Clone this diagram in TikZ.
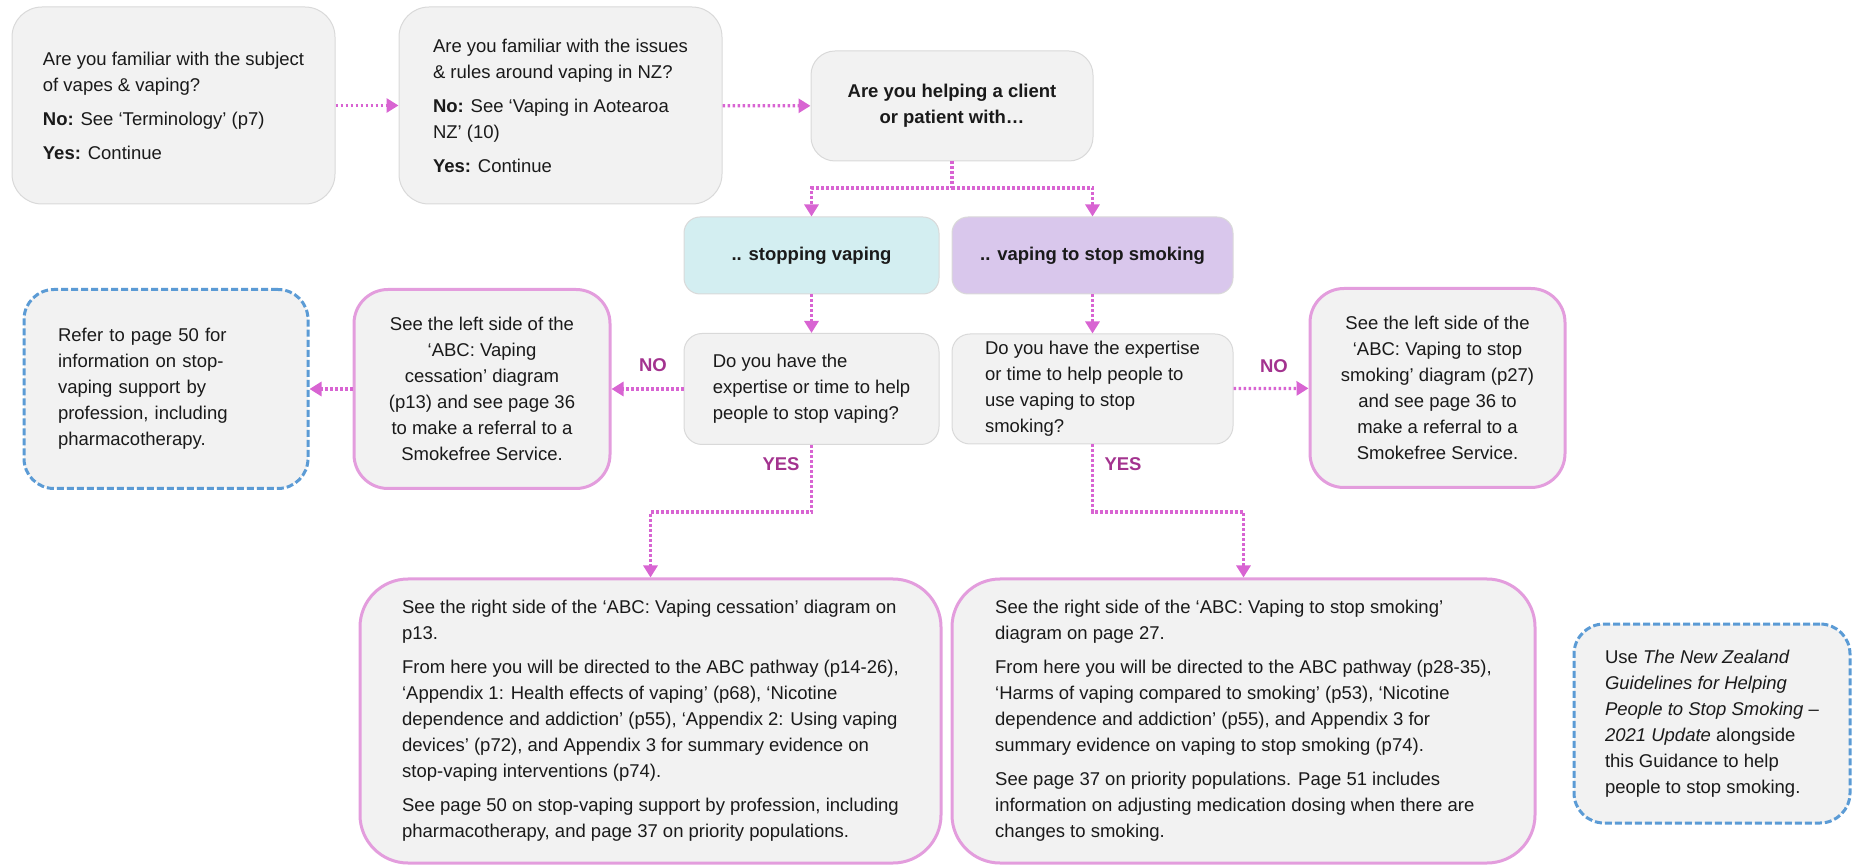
\documentclass[tikz,border=0pt]{standalone}
\usepackage{fontspec}
\setmainfont{Liberation Sans}
\usepackage{xcolor}
\usetikzlibrary{arrows.meta, positioning, calc}

\definecolor{boxgray}{HTML}{F2F2F2}
\definecolor{edgegray}{HTML}{D9D9D9}
\definecolor{flowpink}{HTML}{D864D2}
\definecolor{edgepink}{HTML}{E39DDD}
\definecolor{ansmag}{HTML}{A3338F}
\definecolor{edgeblue}{HTML}{5B9BD5}
\definecolor{fillteal}{HTML}{D3EEF1}
\definecolor{fillpurple}{HTML}{D9C7EC}
\definecolor{inktext}{HTML}{1A1A1A}
\newcommand{\boxfont}{\fontsize{9.25}{13}\selectfont}
\newcommand{\paragap}{4pt}

\begin{document}
\begin{tikzpicture}[x=0.5pt, y=-0.5pt,
  every node/.style={font=\boxfont, text=inktext, inner sep=0pt},
  card/.style={draw=edgegray, line width=0.5pt, fill=boxgray, rounded corners=#1, align=left},
  card/.default=15pt,
  choice/.style={draw=edgegray, line width=0.5pt, fill=#1, rounded corners=8pt,
    font=\boxfont\bfseries, minimum width=127.5pt, minimum height=38.5pt},
  pinkbox/.style={draw=edgepink, line width=1.5pt, fill=boxgray, rounded corners=#1},
  pinkbox/.default=17pt,
  bluebox/.style={draw=edgeblue, line width=1.5pt, dash pattern=on 3.5pt off 1.5pt,
    fill=boxgray, rounded corners=15pt, align=left, minimum width=#1, minimum height=99.5pt},
  flow/.style={draw=flowpink, line width=1.6pt, dash pattern=on 1.3pt off 1.2pt,
    -{Triangle[length=6pt, width=7pt, fill=flowpink]}},
  ans/.style={font=\boxfont\bfseries, text=ansmag}
]
\useasboundingbox (0,0) rectangle (1852,865);

% top row
\node[card, minimum width=161.5pt, minimum height=98.5pt] (subj) at (173.5,105.5)
  {Are you familiar with the subject\\ of vapes \& vaping?\\[\paragap]
   \textbf{No:} See ‘Terminology’ (p7)\\[\paragap] \textbf{Yes:} Continue};
\node[card, minimum width=161.5pt, minimum height=98.5pt] (rules) at (560.5,105.5)
  {Are you familiar with the issues\\ \& rules around vaping in NZ?\\[\paragap]
   \textbf{No:} See ‘Vaping in Aotearoa\\ NZ’ (10)\\[\paragap] \textbf{Yes:} Continue};
\node[card=12pt, align=center, font=\boxfont\bfseries, minimum width=141pt, minimum height=55pt]
  (client) at (952,106) {Are you helping a client\\ or patient with…};

% the two routes
\node[choice=fillteal] (stopvape) at (811.5,255.5) {.. stopping vaping};
\node[choice=fillpurple, minimum width=140.5pt] (vapesmoke) at (1092.5,255.5) {.. vaping to stop smoking};

\node[card=9pt, minimum width=127.5pt, minimum height=55.5pt] (qvape) at (811.5,389)
  {Do you have the\\ expertise or time to help\\ people to stop vaping?};
\node[card=9pt, minimum width=140.5pt, minimum height=55pt] (qsmoke) at (1092.5,389)
  {Do you have the expertise\\ or time to help people to\\ use vaping to stop\\ smoking?};

% referral side
\node[pinkbox, align=center, minimum width=128pt, minimum height=99.5pt] (refvape) at (482,389)
  {See the left side of the\\ ‘ABC: Vaping\\ cessation’ diagram\\ (p13) and see page 36\\
   to make a referral to a\\ Smokefree Service.};
\node[bluebox=142pt, text width=108pt, inner xsep=17pt] (stopsupport) at (166,389)
  {Refer to page 50 for\\ information on stop-\\ vaping support by\\ profession, including\\ pharmacotherapy.};
\node[pinkbox, align=center, minimum width=127.5pt, minimum height=99.5pt] (refsmoke) at (1437.5,388)
  {See the left side of the\\ ‘ABC: Vaping to stop\\ smoking’ diagram (p27)\\ and see page 36 to\\
   make a referral to a\\ Smokefree Service.};

% bottom row
\node[pinkbox=24pt, align=left, minimum width=290.5pt, minimum height=142pt] (pathvape) at (650.5,721)
  {See the right side of the ‘ABC: Vaping cessation’ diagram on\\ p13.\\[\paragap]
   From here you will be directed to the ABC pathway (p14-26),\\
   ‘Appendix 1: Health effects of vaping’ (p68), ‘Nicotine\\
   dependence and addiction’ (p55), ‘Appendix 2: Using vaping\\
   devices’ (p72), and Appendix 3 for summary evidence on\\
   stop-vaping interventions (p74).\\[\paragap]
   See page 50 on stop-vaping support by profession, including\\
   pharmacotherapy, and page 37 on priority populations.};
\node[pinkbox=24pt, align=left, minimum width=291.5pt, minimum height=142pt] (pathsmoke) at (1243.5,721)
  {See the right side of the ‘ABC: Vaping to stop smoking’\\ diagram on page 27.\\[\paragap]
   From here you will be directed to the ABC pathway (p28-35),\\
   ‘Harms of vaping compared to smoking’ (p53), ‘Nicotine\\
   dependence and addiction’ (p55), and Appendix 3 for\\
   summary evidence on vaping to stop smoking (p74).\\[\paragap]
   See page 37 on priority populations. Page 51 includes\\
   information on adjusting medication dosing when there are\\
   changes to smoking.};
\node[bluebox=138pt] (guidelines) at (1712,723.5)
  {Use \textit{The New Zealand}\\ \textit{Guidelines for Helping}\\ \textit{People to Stop Smoking} –\\
   \textit{2021 Update} alongside\\ this Guidance to help\\ people to stop smoking.};

% answers
\node[ans] (novape) at (653,365) {NO};
\node[ans] (nosmoke) at (1274,366) {NO};
\node[ans] (yesvape) at (781,464) {YES};
\node[ans] (yessmoke) at (1123,464) {YES};

% connectors
\coordinate (split) at (952,188);
\coordinate (bendvape) at (811.5,512);
\coordinate (bendsmoke) at (1092.5,512);
\draw[flow] (subj) -- (rules);
\draw[flow] (rules) -- (client);
\draw[flow] (client) -- (split) -| (stopvape);
\draw[flow] (split) -| (vapesmoke);
\draw[flow] (stopvape) -- (qvape);
\draw[flow] (vapesmoke) -- (qsmoke);
\draw[flow] (qvape) -- (refvape);
\draw[flow] (refvape) -- (stopsupport);
\draw[flow] (qsmoke) -- (refsmoke);
\draw[flow] (qvape) -- (bendvape) -| (pathvape);
\draw[flow] (qsmoke) -- (bendsmoke) -| (pathsmoke);
\end{tikzpicture}
\end{document}
